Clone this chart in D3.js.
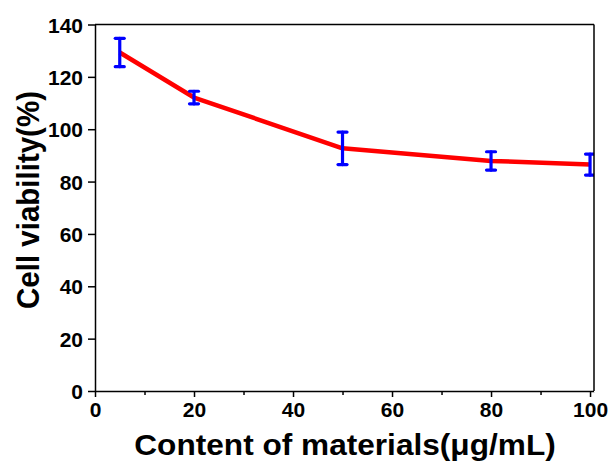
<!DOCTYPE html>
<html>
<head>
<meta charset="utf-8">
<script src="https://cdn.jsdelivr.net/npm/d3@7"></script>
<style>
  body { margin: 0; background: #fff; }
  svg { display: block; }
  text { font-family: Arial, "Liberation Sans", sans-serif; font-weight: bold; fill: #000; }
</style>
</head>
<body>
<svg id="chart" width="614" height="463"></svg>
<script>
// Data
const concentrations = [5, 20, 50, 80, 100];
const viability = [129.3, 112.1, 92.7, 87.9, 86.5];
const errors = [5.4, 2.4, 6.2, 3.5, 4.0];
const xTickValues = [0, 20, 40, 60, 80, 100];
const xMinorTickValues = [10, 30, 50, 70, 90];
const yTickValues = [0, 20, 40, 60, 80, 100, 120, 140];
const xLabel = "Content of materials(\u03bcg/mL)";
const yLabel = "Cell viability(%)";

const svg = d3.select("#chart");
const pL = 95, pR = 594, pT = 24.5, pB = 391;

const x = d3.scaleLinear().domain([0, 100.8]).range([pL, pR]);
const y = d3.scaleLinear().domain([0, 140]).range([pB, pT]);

// Frame (top)
svg.append("line").attr("x1", pL).attr("x2", pR).attr("y1", pT).attr("y2", pT)
  .attr("stroke", "#000").attr("stroke-width", 1.5);

// Minor x ticks
const gxm = svg.append("g").attr("transform", `translate(0,${pB})`)
  .call(d3.axisBottom(x).tickValues(xMinorTickValues).tickSize(4).tickFormat(""));
gxm.select(".domain").remove();
gxm.selectAll("line").attr("stroke-width", 1.5);

// X axis
const gx = svg.append("g").attr("transform", `translate(0,${pB})`)
  .call(d3.axisBottom(x).tickValues(xTickValues).tickSize(6).tickSizeOuter(0).tickPadding(4));
gx.select(".domain").attr("stroke-width", 1.5);
gx.selectAll(".tick line").attr("stroke-width", 1.5);
gx.selectAll("text").style("font-size", "21px").attr("dy", "0.78em");

// Y axis
const gy = svg.append("g").attr("transform", `translate(${pL},0)`)
  .call(d3.axisLeft(y).tickValues(yTickValues).tickSize(7).tickSizeOuter(0).tickPadding(5));
gy.select(".domain").attr("stroke-width", 1.5);
gy.selectAll(".tick line").attr("stroke-width", 1.5);
gy.selectAll("text").style("font-size", "21px").attr("dy", "0.36em");

// Line
const line = d3.line().x((d, i) => x(concentrations[i])).y(d => y(d));
svg.append("path").datum(viability)
  .attr("d", line).attr("fill", "none").attr("stroke", "#ff0000").attr("stroke-width", 4.5)
  .attr("stroke-linejoin", "round");

// Error bars
const eb = svg.append("g").attr("stroke", "#0000ff").attr("stroke-width", 3.2).attr("stroke-linecap", "round");
concentrations.forEach((c, i) => {
  const cx = x(c), yt = y(viability[i] + errors[i]), yb = y(viability[i] - errors[i]);
  eb.append("line").attr("x1", cx).attr("x2", cx).attr("y1", yt).attr("y2", yb);
  eb.append("line").attr("x1", cx - 4.5).attr("x2", cx + 4.5).attr("y1", yt).attr("y2", yt);
  eb.append("line").attr("x1", cx - 4.5).attr("x2", cx + 4.5).attr("y1", yb).attr("y2", yb);
});
// right frame on top (error bar at 100 is partly hidden)
svg.append("rect").attr("x", pR).attr("y", pT - 1).attr("width", 20).attr("height", pB - pT + 2).attr("fill", "#fff");
svg.append("line").attr("x1", pR).attr("x2", pR).attr("y1", pT).attr("y2", pB)
  .attr("stroke", "#000").attr("stroke-width", 1.5);

// Axis titles
svg.append("text").attr("transform", "translate(345,455) scale(1.09,1)").attr("text-anchor", "middle")
  .style("font-size", "29px").text(xLabel);
svg.append("text").attr("transform", "translate(38.5,200) scale(1.09,1) rotate(-90)").attr("text-anchor", "middle")
  .style("font-size", "29.5px").text(yLabel);
</script>
</body>
</html>
